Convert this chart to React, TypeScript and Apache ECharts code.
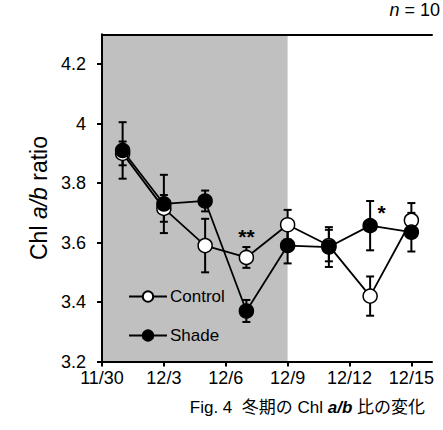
import React, { useEffect, useRef } from "react";
import * as echarts from "echarts";

const days = [1, 3, 5, 7, 9, 11, 13, 15];
const controlMean = [3.9, 3.715, 3.59, 3.55, 3.66, 3.59, 3.42, 3.675];
const controlErr = [0.04, 0.045, 0.09, 0.035, 0.05, 0.053, 0.066, 0.058];
const shadeMean = [3.91, 3.73, 3.74, 3.37, 3.59, 3.585, 3.657, 3.635];
const shadeErr = [0.095, 0.098, 0.035, 0.037, 0.06, 0.067, 0.083, 0.065];
const xTickLabels = ["11/30", "12/3", "12/6", "12/9", "12/12", "12/15"];
const shadedPeriod = [0, 9];
const significance = [
  { day: 7, value: 3.62, label: "**" },
  { day: 13.55, value: 3.7, label: "*" },
];

const FONT = "Liberation Sans, Arial, sans-serif";

function errorSeries(means: number[], errs: number[]) {
  return {
    type: "custom",
    z: 2,
    silent: true,
    data: days.map((d, i) => [d, means[i], errs[i]]),
    renderItem: (params: any, api: any) => {
      const x = api.value(0);
      const m = api.value(1);
      const e = api.value(2);
      const top = api.coord([x, m + e]);
      const bot = api.coord([x, m - e]);
      const hw = 4;
      const style = { stroke: "#000", lineWidth: 2 };
      return {
        type: "group",
        children: [
          { type: "line", shape: { x1: top[0], y1: top[1], x2: bot[0], y2: bot[1] }, style },
          { type: "line", shape: { x1: top[0] - hw, y1: top[1], x2: top[0] + hw, y2: top[1] }, style },
          { type: "line", shape: { x1: bot[0] - hw, y1: bot[1], x2: bot[0] + hw, y2: bot[1] }, style },
        ],
      };
    },
  };
}

export default function App() {
  const ref = useRef<HTMLDivElement>(null);
  useEffect(() => {
    if (!ref.current) return;
    const chart = echarts.init(ref.current, null, { renderer: "svg" });
    const axisLine = { show: true, lineStyle: { color: "#000", width: 2 } };
    chart.setOption({
      animation: false,
      textStyle: { fontFamily: FONT },
      grid: { left: 102, top: 34.5, width: 330, height: 327 },
      legend: {
        orient: "vertical",
        left: 123,
        top: 283,
        itemWidth: 38,
        itemHeight: 13,
        itemGap: 22,
        padding: 5,
        data: ["Control", "Shade"],
        textStyle: { fontSize: 17, color: "#000", fontFamily: FONT, padding: [0, 0, 0, -2] },
      },
      xAxis: [
        {
          type: "value",
          min: 0,
          max: 16,
          interval: 3,
          z: 10,
          axisLine,
          axisTick: { show: true, length: 5, lineStyle: { color: "#000", width: 2 } },
          axisLabel: {
            color: "#000",
            fontSize: 18,
            margin: 7,
            showMaxLabel: false,
            formatter: (v: number) => xTickLabels[Math.round(v / 3)] ?? "",
          },
          splitLine: { show: false },
        },
        {
          type: "value",
          position: "top",
          min: 0,
          max: 16,
          z: 10,
          axisLine,
          axisTick: { show: false },
          axisLabel: { show: false },
          splitLine: { show: false },
        },
      ],
      yAxis: [
        {
          type: "value",
          min: 3.2,
          max: 4.3,
          interval: 0.2,
          z: 10,
          axisLine,
          axisTick: { show: true, length: 5, lineStyle: { color: "#000", width: 2 } },
          axisLabel: { color: "#000", fontSize: 18, margin: 16, showMaxLabel: false },
          splitLine: { show: false },
          name: "{n|Chl }{i|a/b}{n| ratio}",
          nameLocation: "middle",
          nameGap: 52,
          nameRotate: 90,
          nameTextStyle: {
            rich: {
              n: { fontSize: 23, color: "#000", fontFamily: FONT },
              i: { fontSize: 23, color: "#000", fontStyle: "italic", fontFamily: FONT },
            },
          },
        },
        {
          type: "value",
          position: "right",
          min: 3.2,
          max: 4.3,
          z: 10,
          axisLine,
          axisTick: { show: false },
          axisLabel: { show: false },
          splitLine: { show: false },
        },
      ],
      series: [
        {
          type: "line",
          z: 1,
          silent: true,
          data: [],
          markArea: {
            silent: true,
            itemStyle: { color: "#c0c0c0" },
            data: [[{ xAxis: shadedPeriod[0] }, { xAxis: shadedPeriod[1] }]],
          },
        },
        errorSeries(controlMean, controlErr),
        errorSeries(shadeMean, shadeErr),
        {
          name: "Control",
          type: "line",
          z: 3,
          data: days.map((d, i) => [d, controlMean[i]]),
          symbol: "circle",
          symbolSize: 14,
          lineStyle: { color: "#000", width: 1.8 },
          itemStyle: { color: "#fff", borderColor: "#000", borderWidth: 1.5 },
        },
        {
          name: "Shade",
          type: "line",
          z: 4,
          data: days.map((d, i) => [d, shadeMean[i]]),
          symbol: "circle",
          symbolSize: 14,
          lineStyle: { color: "#000", width: 1.8 },
          itemStyle: { color: "#000", borderColor: "#000", borderWidth: 1.5 },
          markPoint: {
            symbol: "circle",
            symbolSize: 0,
            silent: true,
            label: {
              show: true,
              color: "#000",
              fontSize: 21,
              fontWeight: "bold",
              position: "inside",
              formatter: (p: any) => p.name,
            },
            data: significance.map((s) => ({ name: s.label, coord: [s.day, s.value] })),
          },
        },
      ],
      graphic: [
        {
          type: "text",
          right: 3,
          top: 1,
          style: {
            text: "{i|n} = 10",
            fontSize: 18,
            fill: "#000",
            fontFamily: FONT,
            rich: { i: { fontStyle: "italic", fontSize: 18, fontFamily: FONT } },
          },
        },
        {
          type: "text",
          right: 18,
          top: 399,
          style: {
            text: "Fig. 4  冬期の Chl {b|a/b} 比の変化",
            fontSize: 17,
            fill: "#000",
            fontFamily: "Liberation Sans, 'Noto Sans CJK JP', sans-serif",
            rich: {
              b: { fontStyle: "italic", fontWeight: "bold", fontSize: 17, fontFamily: FONT },
            },
          },
        },
      ],
    });
    return () => chart.dispose();
  }, []);
  return (
    <div
      ref={ref}
      style={{ position: "absolute", left: 0, top: 0, width: 443, height: 430 }}
    />
  );
}
